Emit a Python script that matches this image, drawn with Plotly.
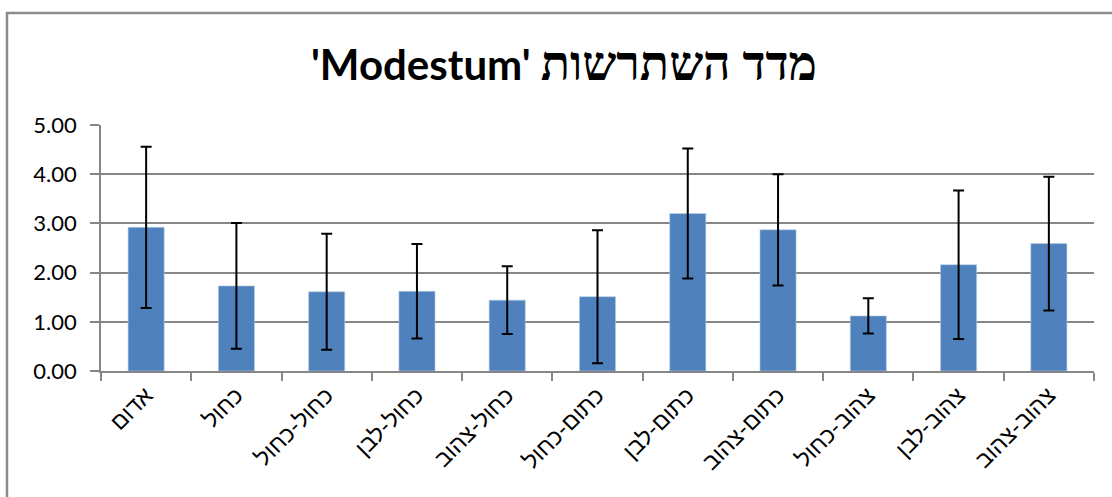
import plotly.graph_objects as go

categories = ["אדום", "כחול", "כחול-כחול", "כחול-לבן", "כחול-צהוב", "כתום-כחול",
              "כתום-לבן", "כתום-צהוב", "צהוב-כחול", "צהוב-לבן", "צהוב-צהוב"]
means = [2.92, 1.73, 1.61, 1.62, 1.44, 1.51, 3.20, 2.87, 1.12, 2.16, 2.59]
errors = [1.64, 1.28, 1.18, 0.96, 0.69, 1.35, 1.32, 1.13, 0.36, 1.51, 1.36]
y_ticks = [0, 1, 2, 3, 4, 5]
title_latin = "'Modestum'"
title_hebrew = "מדד השתרשות"

FONT = "Lato, 'Liberation Sans', 'DejaVu Sans', sans-serif"
TITLE_FONT = "Lato, 'Liberation Serif', 'DejaVu Sans', sans-serif"

fig = go.Figure(go.Bar(
    x=categories, y=means,
    marker=dict(color="#4F81BD", line=dict(color="#B9CDE5", width=0.6)),
    error_y=dict(type="data", array=errors, visible=True, color="black",
                 thickness=2, width=5.5),
))

W, H = 1112, 497
L, R, T, B = 101, 18, 125, 126
pw, ph = W - L - R, H - T - B

title_html = (f"<b>{title_latin} "
              f"<span style='font-size:48px'>{title_hebrew}</span></b>")

fig.update_layout(
    width=W, height=H,
    margin=dict(l=L, r=R, t=T, b=B),
    paper_bgcolor="white", plot_bgcolor="white",
    bargap=0.6,
    showlegend=False,
    font=dict(family=FONT, color="black", size=18),
    title=dict(text=title_html, x=564 / W, xanchor="center", xref="container",
               y=1 - 65 / H, yanchor="middle", yref="container",
               font=dict(size=42, family=TITLE_FONT, color="black")),
    xaxis=dict(type="category", tickangle=-45, tickson="boundaries",
               ticks="outside", ticklen=8, tickcolor="#868686", tickwidth=1.5,
               showline=True, linecolor="#868686", linewidth=1.5,
               showgrid=False, tickfont=dict(size=23, family=FONT)),
    yaxis=dict(range=[0, 5], tickvals=y_ticks,
               ticktext=[f"{v:.2f}" for v in y_ticks],
               ticks="outside", ticklen=9, tickcolor="#868686", tickwidth=1.5,
               ticklabelstandoff=9,
               showline=True, linecolor="#868686", linewidth=1.5,
               showgrid=True, gridcolor="#868686", gridwidth=1.5,
               zeroline=False, tickfont=dict(size=22, family=FONT)),
)

# chart border (left and top visible)
x_left = (7 - L) / pw
y_top = 1 + (T - 13) / ph
fig.add_shape(type="path",
              path=f"M {x_left} -1 L {x_left} {y_top} L 1.2 {y_top}",
              xref="paper", yref="paper",
              line=dict(color="#8C8C8C", width=2.5))

fig.write_html("out.html", config={"displayModeBar": False},
               post_script="document.body.style.margin='0';document.body.style.padding='0';")
